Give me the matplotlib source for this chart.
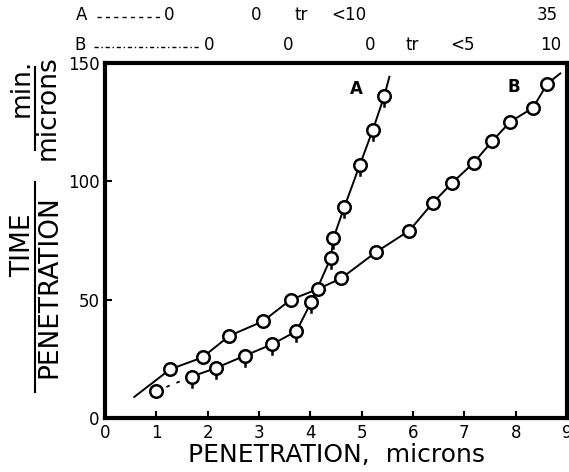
import matplotlib
matplotlib.use("Agg")
import matplotlib.pyplot as plt
from matplotlib.path import Path
from matplotlib.lines import Line2D

# Curve A - points carry a little tail
a_pen = [1.0, 1.69, 2.16, 2.72, 3.26, 3.73, 4.02, 4.40, 4.45, 4.66, 4.96, 5.22, 5.44]
a_ratio = [11.4, 17.5, 21.1, 26.3, 31.2, 36.7, 49.1, 67.7, 76.0, 89.0, 106.7, 121.9, 136.0]
a_line_end = [5.54, 144.2]

# Curve B
b_pen = [1.27, 1.90, 2.42, 3.07, 3.62, 4.15, 4.60, 5.28, 5.93, 6.39, 6.76, 7.18, 7.54, 7.89, 8.34, 8.61]
b_ratio = [20.6, 25.6, 34.7, 40.8, 50.0, 54.5, 59.0, 70.1, 79.2, 91.0, 99.3, 107.8, 116.9, 125.1, 131.1, 141.1]
b_line_start = [0.57, 8.9]
b_line_end = [8.87, 145.6]

# numbers written above the frame
top_a_pos = [1.25, 2.95, 3.83, 4.74, 8.61]
top_a_text = ['0', '0', 'tr', '<10', '35']
top_b_pos = [2.03, 3.56, 5.16, 5.98, 6.96, 8.69]
top_b_text = ['0', '0', '0', 'tr', '<5', '10']

x_ticks = [0, 1, 2, 3, 4, 5, 6, 7, 8, 9]
y_ticks = [0, 50, 100, 150]

W, H = 569, 472
def fx(p):
    return p / W
def fy(p):
    return 1 - p / H

# circle with a short stem underneath
circ = Path.unit_circle()
verts = list(circ.vertices) + [(0, -1), (0, -1.8)]
codes = list(circ.codes) + [Path.MOVETO, Path.LINETO]
tail_marker = Path(verts, codes)

fig = plt.figure(figsize=(W / 100, H / 100), dpi=100)
ax = fig.add_axes([fx(105), fy(418), fx(567 - 105), (418 - 63) / H])

# curve B
bx = [b_line_start[0]] + b_pen + [b_line_end[0]]
by = [b_line_start[1]] + b_ratio + [b_line_end[1]]
ax.plot(bx, by, color='black', lw=1.4, zorder=2)
ax.plot(b_pen, b_ratio, 'o', ms=9, mfc='white', mec='black', mew=1.8, zorder=4)

# curve A: dashed first bit, then solid
ax.plot(a_pen[:2], a_ratio[:2], color='black', lw=1.3, ls=(0, (2, 4)), zorder=2)
ax.plot(a_pen[1:] + [a_line_end[0]], a_ratio[1:] + [a_line_end[1]], color='black', lw=1.4, zorder=2)
ax.plot(a_pen[:1], a_ratio[:1], 'o', ms=9, mfc='white', mec='black', mew=1.8, zorder=4)
ax.plot(a_pen[1:], a_ratio[1:], ls='none', marker=tail_marker, ms=16.2,
        mfc='white', mec='black', mew=1.8, zorder=4)

ax.text(4.9, 139, 'A', fontsize=12, fontweight='bold', ha='center', va='center')
ax.text(7.97, 140, 'B', fontsize=12, fontweight='bold', ha='center', va='center')

ax.set_xlim(0, 9)
ax.set_ylim(0, 150)
ax.set_xticks(x_ticks)
ax.set_yticks(y_ticks)
ax.tick_params(direction='in', length=5, width=1.5, labelsize=12)
ax.tick_params(axis='x', pad=4)
ax.tick_params(axis='y', pad=4)
for s in ax.spines.values():
    s.set_linewidth(3)

ax.set_xlabel('PENETRATION,  microns', fontsize=18, labelpad=1)

# rows of values above the plot
tr = ax.get_xaxis_transform()
for x, s in zip(top_a_pos, top_a_text):
    ax.text(x, 1.135, s, transform=tr, fontsize=12, ha='center', va='center', clip_on=False)
for x, s in zip(top_b_pos, top_b_text):
    ax.text(x, 1.051, s, transform=tr, fontsize=12, ha='center', va='center', clip_on=False)
fig.text(fx(82), fy(15), 'A', fontsize=12, ha='center', va='center')
fig.text(fx(80), fy(45), 'B', fontsize=12, ha='center', va='center')
fig.add_artist(Line2D([fx(97), fx(160)], [fy(17), fy(17)], transform=fig.transFigure,
                      color='black', lw=1, ls=(0, (3, 3))))
fig.add_artist(Line2D([fx(94), fx(199)], [fy(47), fy(47)], transform=fig.transFigure,
                      color='black', lw=1, ls=(0, (3, 2, 1, 2))))

# y label written as two fractions
fig.text(fx(23), fy(245), 'TIME', fontsize=19, rotation=90, ha='center', va='center')
fig.text(fx(49), fy(287), 'PENETRATION', fontsize=19, rotation=90, ha='center', va='center')
fig.add_artist(Line2D([fx(35), fx(35)], [fy(182), fy(392)], transform=fig.transFigure,
                      color='black', lw=1.5))
fig.text(fx(22), fy(88), 'min.', fontsize=19, rotation=90, ha='center', va='center')
fig.text(fx(48), fy(108), 'microns', fontsize=19, rotation=90, ha='center', va='center')
fig.add_artist(Line2D([fx(35), fx(35)], [fy(67), fy(150)], transform=fig.transFigure,
                      color='black', lw=1.5))

plt.savefig('out.png', dpi=100)
